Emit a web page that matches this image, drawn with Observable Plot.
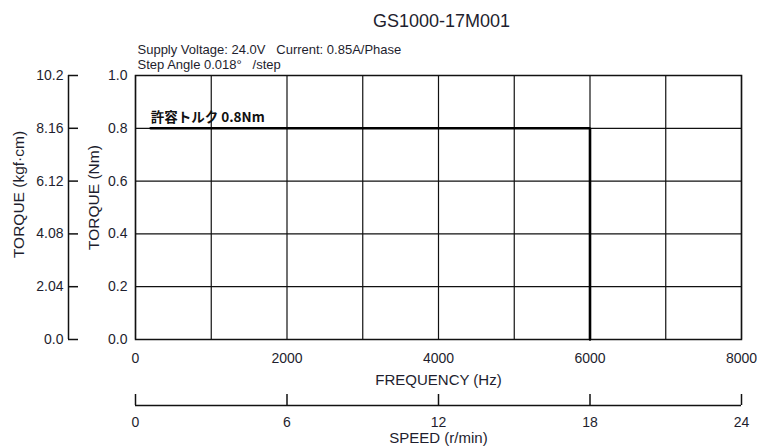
<!DOCTYPE html>
<html>
<head>
<meta charset="utf-8">
<script src="https://cdn.jsdelivr.net/npm/d3@7"></script>
<script src="https://cdn.jsdelivr.net/npm/@observablehq/plot@0.6"></script>
<style>
  html, body { margin: 0; padding: 0; background: #fff; }
  #chart svg { display: block; }
</style>
</head>
<body>
<div id="chart"></div>
<script>
// ---- data ----
const title = "GS1000-17M001";
const subtitleLines = ["Supply Voltage: 24.0V\u00a0\u00a0\u00a0Current: 0.85A/Phase", "Step Angle 0.018°\u00a0\u00a0\u00a0/step"];
const freqGrid = [0, 1000, 2000, 3000, 4000, 5000, 6000, 7000, 8000];
const freqTicks = [0, 2000, 4000, 6000, 8000];
const nmTicks = [0, 0.2, 0.4, 0.6, 0.8, 1.0];
const nmTickLabels = ["0.0", "0.2", "0.4", "0.6", "0.8", "1.0"];
const kgfTicks = [0, 2.04, 4.08, 6.12, 8.16, 10.2];
const kgfTickLabels = ["0.0", "2.04", "4.08", "6.12", "8.16", "10.2"];
const speedTicks = [0, 6, 12, 18, 24];
const torqueFreq = [200, 6000, 6000];
const torqueNm = [0.8, 0.8, 0.0];
const annotationText = "許容トルク 0.8Nm";
const annotationFreq = 200;
const annotationNm = 0.8;

const KGF_PER_NM = 10.2;                 // 1 N·m = 10.2 kgf·cm
const STEP_ANGLE = 0.018;                // deg per step
const HZ_PER_RPM = 360 / (60 * STEP_ANGLE); // pulses/s per r/min

const torqueCurve = torqueFreq.map((f, i) => ({freq: f, torque: torqueNm[i]}));
const kgfRows = kgfTicks.map((v, i) => ({nm: v / KGF_PER_NM, label: kgfTickLabels[i]}));
const nmRows = nmTicks.map((v, i) => ({nm: v, label: nmTickLabels[i]}));
const speedRows = speedTicks.map(s => ({freq: s * HZ_PER_RPM, label: String(s)}));

const ink = "#1e1e2e";
const font = "'Liberation Sans', Arial, Helvetica, sans-serif";

const chart = Plot.plot({
  width: 757,
  height: 448,
  marginLeft: 135,
  marginRight: 16,
  marginTop: 75,
  marginBottom: 109,
  style: {fontFamily: font, color: ink, background: "#fff", overflow: "visible"},
  x: {domain: [0, 8000], axis: null},
  y: {domain: [0, 1], axis: null},
  marks: [
    // grid
    Plot.ruleX(freqGrid, {x: d => d, stroke: "#111", strokeWidth: 1.2}),
    Plot.ruleY(nmTicks, {y: d => d, stroke: "#111", strokeWidth: 1.2}),
    Plot.frame({stroke: "#111", strokeWidth: 1.5}),
    // torque curve
    Plot.line(torqueCurve, {x: "freq", y: "torque", stroke: "#000", strokeWidth: 2.6, strokeLinejoin: "miter"}),
    Plot.text([{freq: annotationFreq, nm: annotationNm}], {
      x: "freq", y: "nm", text: () => annotationText, textAnchor: "start", lineAnchor: "bottom",
      dx: 0, dy: -6, fontSize: 13.5, fontWeight: "bold", fill: "#111",
      fontFamily: "'Noto Sans CJK JP', 'Liberation Sans', sans-serif"
    }),
    // Nm axis labels
    Plot.text(nmRows, {x: 0, y: "nm", text: "label", textAnchor: "end", dx: -8, fontSize: 14, fill: ink}),
    Plot.text(["TORQUE (Nm)"], {frameAnchor: "left", textAnchor: "middle", lineAnchor: "middle", rotate: -90, dx: -41, dy: -10, fontSize: 15.5, fill: ink}),
    // kgf·cm axis
    Plot.ruleX([0], {x: d => d, y1: 0, y2: kgfTicks[kgfTicks.length - 1] / KGF_PER_NM, dx: -67, stroke: "#111", strokeWidth: 1.5}),
    Plot.ruleY(kgfRows, {y: "nm", x1: 0, x2: 0, insetRight: -10, dx: -67, stroke: "#111", strokeWidth: 1.5}),
    Plot.text(kgfRows, {x: 0, y: "nm", text: "label", textAnchor: "end", dx: -72, fontSize: 14, fill: ink}),
    Plot.text(["TORQUE (kgf·cm)"], {frameAnchor: "left", textAnchor: "middle", lineAnchor: "middle", rotate: -90, dx: -116, dy: -13, fontSize: 15.5, fill: ink}),
    // frequency axis labels
    Plot.text(freqTicks, {x: d => d, y: 0, text: d => String(d), dy: 19, fontSize: 14, fill: ink}),
    Plot.text(["FREQUENCY (Hz)"], {frameAnchor: "bottom", textAnchor: "middle", lineAnchor: "middle", dy: 41, fontSize: 15, fill: ink}),
    // speed axis
    Plot.ruleY([0], {y: d => d, x1: 0, x2: 24 * HZ_PER_RPM, dy: 66, stroke: "#111", strokeWidth: 1.5}),
    Plot.ruleX(speedRows, {x: "freq", y1: 0, y2: 0, insetTop: -11, dy: 66, stroke: "#111", strokeWidth: 1.5}),
    Plot.text(speedRows, {x: "freq", y: 0, text: "label", dy: 83, fontSize: 14, fill: ink}),
    Plot.text(["SPEED (r/min)"], {frameAnchor: "bottom", textAnchor: "middle", lineAnchor: "middle", dy: 99, fontSize: 15, fill: ink}),
    // title and subtitles
    Plot.text([title], {frameAnchor: "top", textAnchor: "middle", lineAnchor: "middle", dx: 3, dy: -54, fontSize: 18, fill: ink}),
    Plot.text([subtitleLines[0]], {frameAnchor: "top-left", textAnchor: "start", lineAnchor: "middle", dx: 2, dy: -26, fontSize: 13, fill: ink}),
    Plot.text([subtitleLines[1]], {frameAnchor: "top-left", textAnchor: "start", lineAnchor: "middle", dx: 2, dy: -11, fontSize: 13, fill: ink})
  ]
});
document.getElementById("chart").appendChild(chart);
</script>
</body>
</html>
